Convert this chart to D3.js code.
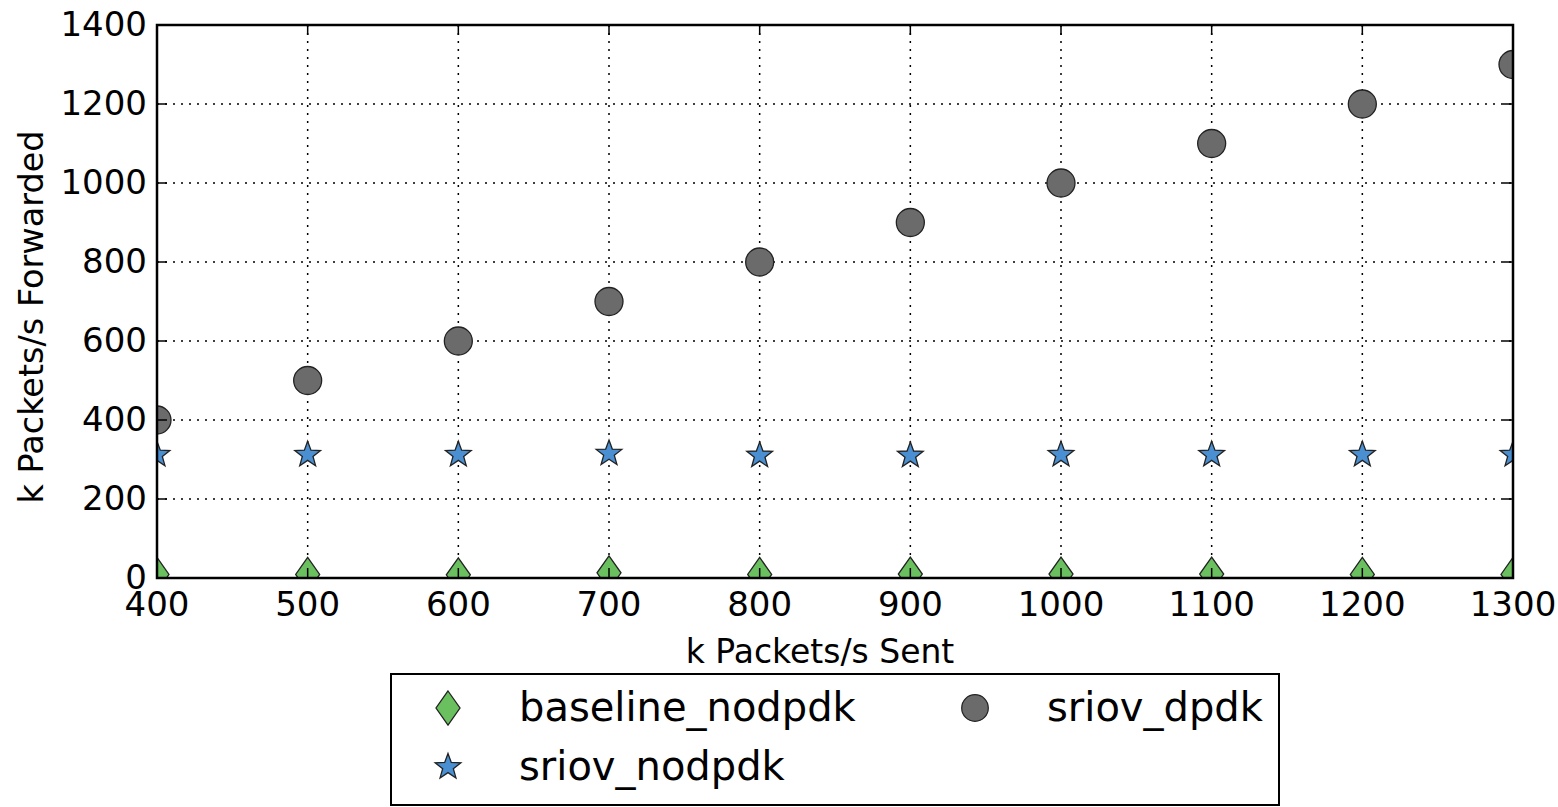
<!DOCTYPE html>
<html>
<head>
<meta charset="utf-8">
<script src="https://cdn.jsdelivr.net/npm/d3@7"></script>
<style>
  body { margin: 0; background: #fff; }
  text { font-family: "DejaVu Sans", sans-serif; fill: #000; }
</style>
</head>
<body>
<svg id="chart" width="1558" height="807"></svg>
<script>
// values
const sent = [400, 500, 600, 700, 800, 900, 1000, 1100, 1200, 1300];
const baselineNodpdk = [9, 9, 8, 13, 9, 10, 10, 10, 9, 9];
const sriovNodpdk = [312, 312, 312, 315, 310, 310, 312, 312, 312, 312];
const sriovDpdk = [400, 500, 600, 700, 800, 900, 1000, 1100, 1200, 1300];
const xTicks = [400, 500, 600, 700, 800, 900, 1000, 1100, 1200, 1300];
const yTicks = [0, 200, 400, 600, 800, 1000, 1200, 1400];

const series = [
  {name: 'baseline_nodpdk', values: baselineNodpdk, shape: 'diamond', color: '#6abf5e'},
  {name: 'sriov_nodpdk', values: sriovNodpdk, shape: 'star', color: '#4a8fd2'},
  {name: 'sriov_dpdk', values: sriovDpdk, shape: 'circle', color: '#6b6b6b'},
];

const m = {left: 157, right: 1513, top: 25, bottom: 578};
const svg = d3.select('#chart');

const x = d3.scaleLinear().domain([400, 1300]).range([m.left, m.right]);
const y = d3.scaleLinear().domain([0, 1400]).range([m.bottom, m.top]);

// marker paths
function markerPath(shape) {
  if (shape === 'circle') {
    return d3.symbol(d3.symbolCircle, Math.PI * 14 * 14)();
  }
  if (shape === 'star') {
    let pts = [];
    for (let i = 0; i < 10; i++) {
      let r = i % 2 === 0 ? 13.5 : 5.6;
      let a = -Math.PI / 2 + i * Math.PI / 5;
      pts.push([r * Math.cos(a), r * Math.sin(a)]);
    }
    return 'M' + pts.map(p => p.join(',')).join('L') + 'Z';
  }
  // thin diamond
  return 'M0,-17L12,0L0,17L-12,0Z';
}

svg.append('clipPath').attr('id', 'plotclip')
  .append('rect')
  .attr('x', m.left).attr('y', m.top)
  .attr('width', m.right - m.left).attr('height', m.bottom - m.top);

// grid
const grid = svg.append('g').attr('stroke', '#000').attr('stroke-width', 1.5)
  .attr('stroke-dasharray', '2,6');
grid.selectAll('line.gx').data(xTicks.slice(1, -1)).enter().append('line')
  .attr('x1', d => x(d)).attr('x2', d => x(d))
  .attr('y1', m.top).attr('y2', m.bottom);
grid.selectAll('line.gy').data(yTicks.slice(1, -1)).enter().append('line')
  .attr('y1', d => y(d)).attr('y2', d => y(d))
  .attr('x1', m.left).attr('x2', m.right);

// markers
const plot = svg.append('g').attr('clip-path', 'url(#plotclip)');
series.forEach(function(s) {
  plot.selectAll(null).data(s.values).enter().append('path')
    .attr('d', markerPath(s.shape))
    .attr('transform', (d, i) => 'translate(' + x(sent[i]) + ',' + y(d) + ')')
    .attr('fill', s.color)
    .attr('stroke', '#222')
    .attr('stroke-width', 1.3);
});

// axes (classic inward ticks on all sides)
const tickLen = 10;
const axes = svg.append('g').attr('stroke', '#000').attr('stroke-width', 1.5);
xTicks.forEach(function(t) {
  axes.append('line').attr('x1', x(t)).attr('x2', x(t))
    .attr('y1', m.bottom).attr('y2', m.bottom - tickLen);
  axes.append('line').attr('x1', x(t)).attr('x2', x(t))
    .attr('y1', m.top).attr('y2', m.top + tickLen);
});
yTicks.forEach(function(t) {
  axes.append('line').attr('y1', y(t)).attr('y2', y(t))
    .attr('x1', m.left).attr('x2', m.left + tickLen);
  axes.append('line').attr('y1', y(t)).attr('y2', y(t))
    .attr('x1', m.right).attr('x2', m.right - tickLen);
});
svg.append('rect')
  .attr('x', m.left).attr('y', m.top)
  .attr('width', m.right - m.left).attr('height', m.bottom - m.top)
  .attr('fill', 'none').attr('stroke', '#000').attr('stroke-width', 2.5);

// tick labels
svg.selectAll('text.xt').data(xTicks).enter().append('text')
  .attr('x', d => x(d)).attr('y', 616)
  .attr('text-anchor', 'middle').style('font-size', '34px')
  .text(d => d);
svg.selectAll('text.yt').data(yTicks).enter().append('text')
  .attr('x', 147).attr('y', d => y(d) + 11)
  .attr('text-anchor', 'end').style('font-size', '34px')
  .text(d => d);

// axis labels
svg.append('text').attr('x', 820).attr('y', 663)
  .attr('text-anchor', 'middle').style('font-size', '33px')
  .text('k Packets/s Sent');
svg.append('text')
  .attr('transform', 'translate(43,317) rotate(-90)')
  .attr('text-anchor', 'middle').style('font-size', '33.5px')
  .text('k Packets/s Forwarded');

// legend
const legend = svg.append('g');
legend.append('rect').attr('x', 391).attr('y', 674)
  .attr('width', 888).attr('height', 131)
  .attr('fill', '#fff').attr('stroke', '#000').attr('stroke-width', 2);
const legendPos = [
  {mx: 448, tx: 519, y: 708},
  {mx: 448, tx: 519, y: 767},
  {mx: 975, tx: 1047, y: 708},
];
series.forEach(function(s, i) {
  let p = legendPos[i];
  legend.append('path').attr('d', markerPath(s.shape))
    .attr('transform', 'translate(' + p.mx + ',' + p.y + ')' +
      (s.shape === 'circle' ? ' scale(0.95)' : ''))
    .attr('fill', s.color).attr('stroke', '#222').attr('stroke-width', 1.3);
  legend.append('text').attr('x', p.tx).attr('y', p.y + 13)
    .style('font-size', '40px').text(s.name);
});
</script>
</body>
</html>
